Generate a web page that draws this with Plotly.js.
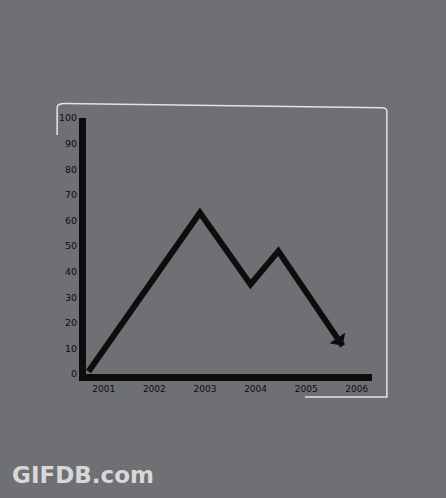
<!DOCTYPE html>
<html>
<head>
<meta charset="utf-8">
<script src="https://cdn.plot.ly/plotly-3.0.1.min.js"></script>
<style>
  html, body { margin: 0; padding: 0; background: #6f7074; }
  #chart { width: 446px; height: 498px; }
</style>
</head>
<body>
<div id="chart"></div>
<script>
// values
const years = [2000.7, 2002.9, 2003.9, 2004.45, 2005.72];
const values = [1, 63, 35, 48, 11];
const yearTicks = [2001, 2002, 2003, 2004, 2005, 2006];
const yearLabels = ['2001', '2002', '2003', '2004', '2005', '2006'];
const valueTicks = [0, 10, 20, 30, 40, 50, 60, 70, 80, 90, 100];

const ink = '#0d0d0d';
const chalk = '#e4e4e4';
const last = years.length - 1;

const trace = {
    x: years,
    y: values,
    type: 'scatter',
    mode: 'lines',
    line: {color: ink, width: 6, shape: 'linear'},
    hoverinfo: 'skip'
};

const layout = {
    width: 446,
    height: 498,
    paper_bgcolor: '#6f7074',
    plot_bgcolor: '#6f7074',
    margin: {l: 86, r: 74, t: 118, b: 124},
    showlegend: false,
    font: {family: 'DejaVu Sans, sans-serif', color: ink, size: 9},
    xaxis: {
        range: [2000.65, 2006.3],
        tickvals: yearTicks,
        ticktext: yearLabels,
        showgrid: false,
        zeroline: false,
        showline: true,
        linecolor: ink,
        linewidth: 7,
        ticks: '',
        tickfont: {size: 9, color: ink}
    },
    yaxis: {
        range: [0, 100],
        tickvals: valueTicks,
        showgrid: false,
        zeroline: false,
        showline: true,
        linecolor: ink,
        linewidth: 7,
        ticks: '',
        tickfont: {size: 9.5, color: ink}
    },
    // chalk frame around the sketch
    shapes: [
        {type: 'path', xref: 'paper', yref: 'paper',
         path: 'M -0.101,0.934 L -0.101,1.04 Q -0.101,1.057 -0.075,1.057 L 1.035,1.04 Q 1.052,1.04 1.052,1.025 L 1.052,-0.09 L 0.766,-0.09',
         line: {color: chalk, width: 1.5}}
    ],
    annotations: [
        // arrow head at the end of the line
        {x: years[last], y: values[last], xref: 'x', yref: 'y',
         ax: years[last - 1], ay: values[last - 1], axref: 'x', ayref: 'y',
         showarrow: true, arrowhead: 1, arrowsize: 0.9, arrowwidth: 3.5,
         arrowcolor: ink, text: ''},
        {text: '<b>GIFDB.com</b>', xref: 'paper', yref: 'paper',
         x: -0.265, y: -0.395, xanchor: 'left', yanchor: 'middle',
         showarrow: false, font: {family: 'DejaVu Sans, sans-serif', size: 23, color: '#d8d8d8'}}
    ]
};

Plotly.newPlot('chart', [trace], layout, {displayModeBar: false, staticPlot: true});
</script>
</body>
</html>
